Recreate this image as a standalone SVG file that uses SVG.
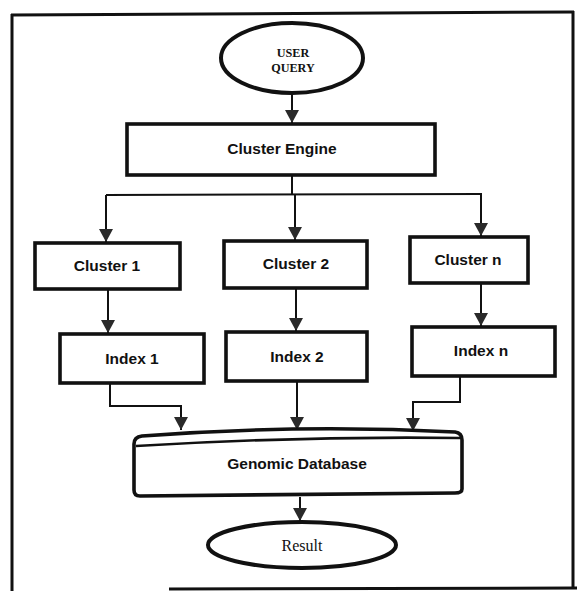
<svg xmlns="http://www.w3.org/2000/svg" width="577" height="591" viewBox="0 0 577 591">
<style>
.box{fill:#fff;stroke:#111;stroke-width:3.6}
.ell{fill:#fff;stroke:#111;stroke-width:4}
.lbl{font-family:"Liberation Sans",Arial,sans-serif;font-weight:bold;font-size:15.5px;fill:#111;text-anchor:middle}
.ser{font-family:"Liberation Serif","Times New Roman",serif;font-weight:bold;font-size:12.2px;fill:#111;text-anchor:middle}
.con{fill:none;stroke:#111;stroke-width:2}
.frame{fill:none;stroke:#111;stroke-width:3}
</style>
<defs>
<marker id="ah" viewBox="0 0 13 14" refX="13" refY="7" markerWidth="13" markerHeight="14" markerUnits="userSpaceOnUse" orient="auto">
<path d="M0,0 L13,7 L0,14 z" fill="#2a2a2a"/>
</marker>
</defs>
<rect width="577" height="591" fill="#fff"/>
<g id="frame">
<path class="frame" d="M11,15 L574,12"/>
<path class="frame" d="M12,14 L12,591"/>
<path class="frame" d="M573,11 L573,589"/>
<path class="frame" d="M169,589 L577,588"/>
</g>
<g id="connectors">
<path class="con" d="M292,95 L292,123" marker-end="url(#ah)"/>
<path class="con" d="M292,176 L292,195 M106,195 L482,194"/>
<path class="con" d="M106,195 L106,242" marker-end="url(#ah)"/>
<path class="con" d="M295,195 L295,240" marker-end="url(#ah)"/>
<path class="con" d="M481,194 L481,236" marker-end="url(#ah)"/>
<path class="con" d="M108,290 L108,333" marker-end="url(#ah)"/>
<path class="con" d="M296,289 L296,331" marker-end="url(#ah)"/>
<path class="con" d="M481,284 L481,326" marker-end="url(#ah)"/>
<path class="con" d="M110,384 L110,406 L181,406 L181,430" marker-end="url(#ah)"/>
<path class="con" d="M297,382 L297,430" marker-end="url(#ah)"/>
<path class="con" d="M460,377 L460,402 L413,402 L413,431" marker-end="url(#ah)"/>
<path class="con" d="M300,497 L300,521" marker-end="url(#ah)"/>
</g>
<g id="user-query">
<ellipse class="ell" cx="292" cy="58" rx="71" ry="35"/>
<text class="ser" x="293" y="57">USER</text>
<text class="ser" x="293" y="72">QUERY</text>
</g>
<g id="cluster-engine">
<rect class="box" x="127" y="124" width="308" height="51"/>
<text class="lbl" x="282" y="154">Cluster Engine</text>
</g>
<g id="cluster-1">
<rect class="box" x="35" y="243" width="145" height="46"/>
<text class="lbl" x="107" y="271">Cluster 1</text>
</g>
<g id="cluster-2">
<rect class="box" x="224" y="241" width="143" height="47"/>
<text class="lbl" x="296" y="269">Cluster 2</text>
</g>
<g id="cluster-n">
<rect class="box" x="410" y="237" width="118" height="46"/>
<text class="lbl" x="468" y="265">Cluster n</text>
</g>
<g id="index-1">
<rect class="box" x="60" y="334" width="144" height="49"/>
<text class="lbl" x="132" y="364">Index 1</text>
</g>
<g id="index-2">
<rect class="box" x="226" y="332" width="141" height="49"/>
<text class="lbl" x="297" y="362">Index 2</text>
</g>
<g id="index-n">
<rect class="box" x="412" y="327" width="143" height="49"/>
<text class="lbl" x="481" y="356">Index n</text>
</g>
<g id="genomic-database">
<path class="box" d="M134,444 Q134,437 142,436 Q300,424 455,432 Q462,433 462,440 L462,489 Q462,493 455,493 L140,496 Q134,496 134,490 Z"/>
<path class="con" style="stroke-width:2.6" d="M136,446 Q300,436 460,438"/>
<text class="lbl" x="297" y="469">Genomic Database</text>
</g>
<g id="result">
<ellipse class="ell" cx="302" cy="545" rx="94" ry="23"/>
<text class="ser" style="font-weight:normal;font-size:16px" x="302" y="551">Result</text>
</g>
</svg>
